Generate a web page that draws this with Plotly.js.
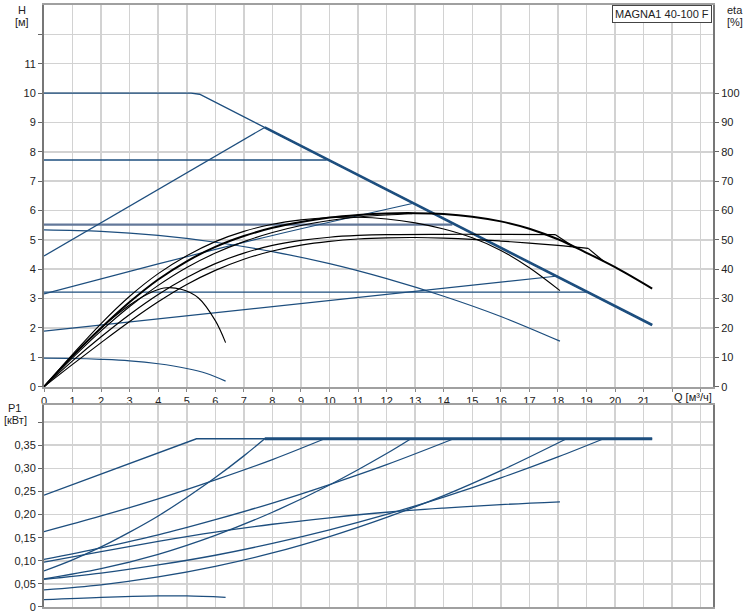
<!DOCTYPE html>
<html>
<head>
<meta charset="utf-8">
<script src="https://cdn.plot.ly/plotly-3.0.1.min.js"></script>
<style>html,body{margin:0;padding:0;background:#fff;}#chart{width:750px;height:615px;}</style>
</head>
<body>
<div id="chart"></div>
<script>
// ---- Axis ticks ----
const qTickVals = [0,1,2,3,4,5,6,7,8,9,10,11,12,13,14,15,16,17,18,19,20,21,22,23];
const qTickText = ['0','1','2','3','4','5','6','7','8','9','10','11','12','13','14','15','16','17','18','19','20','21','',''];
const hTickVals = [0,1,2,3,4,5,6,7,8,9,10,11,12];
const hTickText = ['0','1','2','3','4','5','6','7','8','9','10','11',''];
const etaTickVals = [0,10,20,30,40,50,60,70,80,90,100];
const etaTickText = ['0','10','20','30','40','50','60','70','80','90','100'];
const pTickVals = [0,0.05,0.10,0.15,0.20,0.25,0.30,0.35,0.40];
const pTickText = ['0','0,05','0,10','0,15','0,20','0,25','0,30','0,35',''];

// ---- Head curves H [m] ----
const maxQ = [0, 5.15, 5.45, 7.73, 9.9, 21.3];
const maxH = [10, 10, 9.96, 8.83, 7.75, 2.1];
const cp1Q = [0, 9.9];   const cp1H = [7.72, 7.72];
const cp2Q = [0, 14.3];  const cp2H = [5.52, 5.52];
const cp3Q = [0, 19.03]; const cp3H = [3.22, 3.22];
const pp1Q = [0, 7.73];  const pp1H = [4.45, 8.83];
const pp2Q = [0, 4, 8, 12.9]; const pp2H = [3.16, 4.18, 5.15, 6.24];
const pp3Q = [0, 18.0];  const pp3H = [1.89, 3.77];
const spdQ = [0, 2, 4, 6, 8, 10, 12, 14, 16, 18.07];
const spdH = [5.34, 5.29, 5.15, 4.92, 4.6, 4.19, 3.68, 3.08, 2.39, 1.55];
const minQ = [0, 1, 2, 3, 4, 5, 5.7, 6.36];
const minH = [0.97, 0.96, 0.93, 0.88, 0.78, 0.62, 0.45, 0.19];

// ---- Efficiency curves eta [%] ----
const etaMaxQ = [0,1,2,3,4,5,6,7,8,9,10,11,12,13,14,15,16,17,18,19,20,21.3];
const etaMax  = [0,10.5,20,28.8,36.5,42.7,47.6,51.3,54.1,56.1,57.6,58.5,59.0,59.1,58.8,57.9,56.3,53.8,50.2,45.6,40.7,33.4];
const etaAQ = [0,1,2,3,4,5,6,7,8,9,10,11,12,13,14,15,16,17,18.07];
const etaA  = [0,11,21.5,30.8,38.5,44.6,49.4,52.9,55.3,56.8,57.6,57.7,57.1,55.8,53.7,50.7,46.4,40.5,32.7];
const etaBQ = [0,1,2,3,4,5,6,7,8,9,10,11,12,12.9];
const etaB  = [0,9.8,19,27.3,34.5,40.6,45.5,49.4,52.5,54.9,56.6,57.8,58.5,58.9];
const etaCQ = [0,1,2,3,4,5,6,7,8,9,10,11,12,14,16,17.9,18.6];
const etaC  = [0,8.8,17,24.6,31.4,37.2,41.9,45.5,48.1,49.8,50.9,51.5,51.8,51.9,51.9,51.8,47.3];
const etaDQ = [0,1,2,3,4,5,6,7,8,9,10,11,12,13,14,15,16,17,18,19.06,19.6];
const etaD  = [0,7.6,15,22.2,28.9,34.8,39.6,43.4,46.2,48.2,49.5,50.3,50.7,50.8,50.6,50.2,49.6,48.9,48.1,47.1,42.7];
const etaSQ = [0,1,2,3,3.6,4.2,4.8,5.4,6,6.36];
const etaS  = [0,10.5,20,27.8,31.4,33.6,33.2,30.3,22.5,15];

// ---- Power curves P1 [kW] ----
const pMaxQ = [0, 5.34, 7.73, 21.3]; const pMax = [0.242, 0.364, 0.364, 0.364];
const pBQ = [0, 2, 4, 6, 8, 9.83];   const pB = [0.163, 0.197, 0.234, 0.275, 0.319, 0.364];
const pCQ = [0, 1, 2, 3, 4, 5, 6, 7, 7.73];
const pC  = [0.078, 0.102, 0.130, 0.162, 0.197, 0.237, 0.280, 0.327, 0.364];
const pDQ = [0, 2, 4, 6, 8, 10, 12, 12.85];
const pD  = [0.061, 0.083, 0.114, 0.155, 0.205, 0.264, 0.332, 0.364];
const pEQ = [0, 2, 4, 6, 8, 10, 12, 14.35];
const pE  = [0.103, 0.128, 0.156, 0.189, 0.225, 0.265, 0.308, 0.364];
const pFQ = [0, 2, 4, 6, 8, 10, 12, 14, 16, 18.07];
const pF  = [0.097, 0.12, 0.142, 0.162, 0.179, 0.193, 0.205, 0.214, 0.2215, 0.2275];
const pGQ = [0, 2, 4, 6, 8, 10, 12, 14, 16, 18.3];
const pG  = [0.037, 0.048, 0.065, 0.088, 0.117, 0.1525, 0.194, 0.241, 0.295, 0.364];
const pHQ = [0, 2, 4, 6, 8, 10, 12, 14, 16, 18, 19.6];
const pH  = [0.06, 0.0734, 0.091, 0.112, 0.1376, 0.167, 0.2004, 0.2378, 0.2793, 0.3247, 0.364];
const pLQ = [0, 2, 4, 5, 6.36];
const pL  = [0.016, 0.021, 0.024, 0.024, 0.021];

const BLUE = '#1d4e7e';
function ln(x, y, color, width, xa, ya, smooth) {
  const line = {color: color, width: width};
  if (smooth) { line.shape = 'spline'; line.smoothing = 1; }
  return {x: x, y: y, type: 'scatter', mode: 'lines', xaxis: xa, yaxis: ya,
          line: line, hoverinfo: 'skip', showlegend: false};
}
const H = (x, y, c, w, s) => ln(x, y, c, w, 'x', 'y', s);
const E = (x, y, c, w, s) => ln(x, y, c, w, 'x', 'y2', s);
const P = (x, y, c, w, s) => ln(x, y, c, w, 'x2', 'y3', s);

const traces = [
  H(cp2Q, cp2H, '#63789a', 2.2),
  H(cp1Q, cp1H, BLUE, 1.4),
  H(cp3Q, cp3H, BLUE, 1.4),
  H(pp1Q, pp1H, BLUE, 1.2),
  H(pp2Q, pp2H, BLUE, 1.2, true),
  H(pp3Q, pp3H, BLUE, 1.2),
  H(spdQ, spdH, BLUE, 1.2, true),
  H(minQ, minH, BLUE, 1.2, true),
  H(maxQ, maxH, BLUE, 1.4),
  H(maxQ.slice(3), maxH.slice(3), BLUE, 2.6),
  E(etaSQ, etaS, '#000', 1.1, true),
  E(etaDQ.slice(0, 20), etaD.slice(0, 20), '#000', 1.2, true),
  E(etaDQ.slice(19), etaD.slice(19), '#000', 1.2),
  E(etaCQ.slice(0, 16), etaC.slice(0, 16), '#000', 1.2, true),
  E(etaCQ.slice(15), etaC.slice(15), '#000', 1.2),
  E(etaBQ, etaB, '#000', 1.1, true),
  E(etaAQ, etaA, '#000', 1.1, true),
  E(etaMaxQ, etaMax, '#000', 2.0, true),
  P(pLQ, pL, BLUE, 1.3, true),
  P(pBQ, pB, BLUE, 1.3, true),
  P(pCQ, pC, BLUE, 1.3, true),
  P(pDQ, pD, BLUE, 1.3, true),
  P(pEQ, pE, BLUE, 1.3, true),
  P(pFQ, pF, BLUE, 1.3, true),
  P(pGQ, pG, BLUE, 1.3, true),
  P(pHQ, pH, BLUE, 1.3, true),
  P(pMaxQ, pMax, BLUE, 1.4),
  P(pMaxQ.slice(2), pMax.slice(2), BLUE, 3)
];

const FONT = {family: 'Liberation Sans, Arial, sans-serif', size: 11, color: '#222'};
const GRID = '#d2d2d2';
const FRAME = '#a0a0a0';
const common = {showgrid: true, gridcolor: GRID, gridwidth: 1.5, zeroline: false,
  showline: true, mirror: true, linecolor: FRAME, linewidth: 2, tickfont: FONT,
  fixedrange: true};

function label(text, x, y, xanchor) {
  return {text: text, xref: 'paper', yref: 'paper', x: x, y: y, xanchor: xanchor || 'center',
          yanchor: 'middle', showarrow: false, font: FONT};
}

const layout = {
  width: 750, height: 615,
  margin: {l: 44, r: 37, t: 5, b: 8},
  paper_bgcolor: '#fff', plot_bgcolor: '#fff',
  font: FONT,
  showlegend: false,
  xaxis: Object.assign({}, common, {domain: [0, 1], anchor: 'y', range: [0, 23.43],
    tickmode: 'array', tickvals: qTickVals, ticktext: qTickText,
    ticks: 'outside', ticklen: 3, tickcolor: '#888'}),
  yaxis: Object.assign({}, common, {domain: [0.366, 1], anchor: 'x', range: [0, 13],
    tickmode: 'array', tickvals: hTickVals, ticktext: hTickText,
    ticks: 'outside', ticklen: 4, tickcolor: '#666', linecolor: '#777'}),
  yaxis2: {overlaying: 'y', side: 'right', anchor: 'x', range: [0, 130],
    tickmode: 'array', tickvals: etaTickVals, ticktext: etaTickText,
    ticks: 'outside', ticklen: 4, tickcolor: '#666', showgrid: false, zeroline: false,
    showline: true, linecolor: '#777', linewidth: 2, tickfont: FONT, fixedrange: true},
  xaxis2: Object.assign({}, common, {domain: [0, 1], anchor: 'y3', matches: 'x', range: [0, 23.43],
    tickmode: 'array', tickvals: qTickVals, showticklabels: false, ticks: ''}),
  yaxis3: Object.assign({}, common, {domain: [0, 0.3355], anchor: 'x2', range: [0, 0.437],
    tickmode: 'array', tickvals: pTickVals, ticktext: pTickText,
    ticks: 'outside', ticklen: 4, tickcolor: '#666', linecolor: '#777'}),
  annotations: [
    label('H', -0.0329, 0.9917),
    label('[м]', -0.0329, 0.9718),
    label('eta', 1.0329, 0.9917),
    label('[%]', 1.0329, 0.9718),
    label('P1', -0.0448, 0.3306),
    label('[кВт]', -0.0433, 0.3106),
    label('Q [м³/ч]', 0.9387, 0.3488, 'left'),
    {text: 'MAGNA1 40-100 F', xref: 'paper', yref: 'paper', x: 0.9985, y: 1, xanchor: 'right', yanchor: 'top',
     showarrow: false, font: FONT, bgcolor: '#fff', bordercolor: '#444', borderwidth: 1, borderpad: 2}
  ]
};

Plotly.newPlot('chart', traces, layout, {displayModeBar: false, staticPlot: true});
</script>
</body>
</html>
